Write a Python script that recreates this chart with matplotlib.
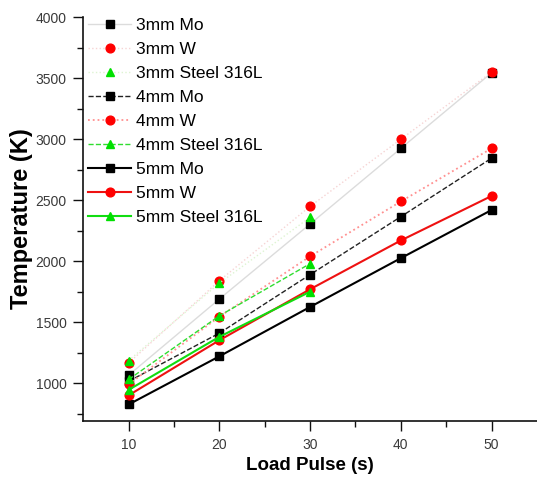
import matplotlib
matplotlib.use("Agg")
import matplotlib.pyplot as plt
from matplotlib.ticker import MultipleLocator, FixedLocator

plt.rcParams['font.family'] = ['Liberation Sans', 'DejaVu Sans']

pulse = [10, 20, 30, 40, 50]
pulse_steel = [10, 20, 30]

mo_3mm = [1065, 1690, 2305, 2925, 3545]
w_3mm = [1165, 1840, 2450, 3000, 3550]
steel_3mm = [1185, 1820, 2360]
mo_4mm = [1015, 1410, 1890, 2365, 2845]
w_4mm = [990, 1545, 2040, 2490, 2925]
steel_4mm = [1030, 1552, 1980]
mo_5mm = [825, 1220, 1625, 2025, 2420]
w_5mm = [900, 1352, 1770, 2170, 2535]
steel_5mm = [945, 1380, 1750]

labels = ["3mm Mo", "3mm W", "3mm Steel 316L",
          "4mm Mo", "4mm W", "4mm Steel 316L",
          "5mm Mo", "5mm W", "5mm Steel 316L"]

fig = plt.figure(figsize=(5.37, 4.8), dpi=100)
ax = fig.add_axes([0.155, 0.123, 0.845, 0.841])

BLK = '#000000'
RED = '#ff0000'
GRN = '#00e000'
ms = 6.3

series = [
    (pulse, mo_3mm, dict(color='#dcdcdc', ls='-', lw=1.0, marker='s', mfc=BLK, mec=BLK)),
    (pulse, w_3mm, dict(color='#f6d4d4', ls=':', lw=1.0, marker='o', mfc=RED, mec=RED)),
    (pulse_steel, steel_3mm, dict(color='#def4d2', ls=':', lw=1.0, marker='^', mfc=GRN, mec=GRN)),
    (pulse, mo_4mm, dict(color='#222222', ls='--', lw=1.0, marker='s', mfc=BLK, mec=BLK)),
    (pulse, w_4mm, dict(color='#ff9090', ls=':', lw=1.3, marker='o', mfc=RED, mec=RED)),
    (pulse_steel, steel_4mm, dict(color='#30dd30', ls='--', lw=1.0, marker='^', mfc=GRN, mec=GRN)),
    (pulse, mo_5mm, dict(color='#000000', ls='-', lw=1.5, marker='s', mfc=BLK, mec=BLK)),
    (pulse, w_5mm, dict(color='#ee1111', ls='-', lw=1.5, marker='o', mfc=RED, mec=RED)),
    (pulse_steel, steel_5mm, dict(color='#11dd11', ls='-', lw=1.5, marker='^', mfc=GRN, mec=GRN)),
]

for (xs, ys, st), lab in zip(series, labels):
    ax.plot(xs, ys, linestyle=st['ls'], color=st['color'], lw=st['lw'],
            marker=st['marker'], markersize=ms, markerfacecolor=st['mfc'],
            markeredgecolor=st['mec'], label=lab)

ax.set_xlim(5, 55)
ax.set_ylim(690, 4000)

ax.xaxis.set_major_locator(FixedLocator([10, 20, 30, 40, 50]))
ax.xaxis.set_minor_locator(FixedLocator([15, 25, 35, 45]))
ax.yaxis.set_major_locator(MultipleLocator(500))
ax.yaxis.set_minor_locator(FixedLocator([750, 1250, 1750, 2250, 2750, 3250, 3750]))

for s in ['top', 'right']:
    ax.spines[s].set_visible(False)
for s in ['left', 'bottom']:
    ax.spines[s].set_linewidth(1.2)
    ax.spines[s].set_color('#111111')

ax.tick_params(which='major', direction='out', length=7, width=1.0,
               labelsize=10, labelcolor='#3a3a3a', color='#111111', pad=5)
ax.tick_params(which='minor', direction='out', length=4, width=1.0, color='#111111')

ax.set_xlabel("Load Pulse (s)", fontsize=13.5, fontweight='bold', labelpad=4)
ax.set_ylabel("Temperature (K)", fontsize=17, fontweight='bold', labelpad=2)

leg = fig.legend(loc='upper left', bbox_to_anchor=(88 / 537, 1 - 18 / 480),
                 frameon=False, fontsize=12.5, handlelength=2.5,
                 handletextpad=0.25, labelspacing=0.51, borderpad=0,
                 borderaxespad=0)

fig.savefig("out.png", dpi=100)
